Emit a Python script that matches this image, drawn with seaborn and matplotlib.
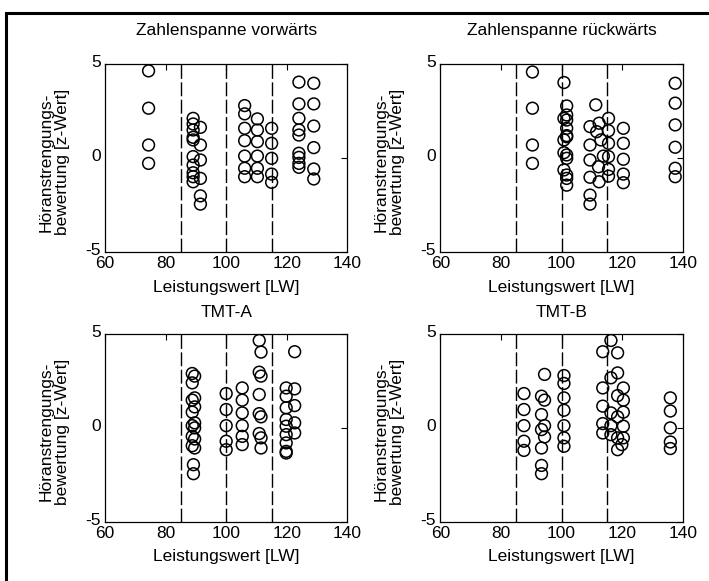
import numpy as np
import pandas as pd
import matplotlib
matplotlib.use("Agg")
import matplotlib.pyplot as plt
import matplotlib.transforms as mtransforms
from matplotlib.patches import Rectangle
import seaborn as sns

# Test scores (LW) and listening-effort ratings (z) per subtest
zsv_lw = [74.4, 74.4, 74.4, 74.4,
          89.1, 89.1, 89.1, 89.1, 89.1, 89.1, 89.1, 89.1, 89.1, 89.1,
          91.5, 91.5, 91.5, 91.5, 91.5, 91.5,
          106.1, 106.1, 106.1, 106.1, 106.1, 106.1, 106.1,
          110.3, 110.3, 110.3, 110.3, 110.3, 110.3,
          115.0, 115.0, 115.0, 115.0, 115.0,
          124.0, 124.0, 124.0, 124.0, 124.0, 124.0, 124.0, 124.0, 124.0,
          128.9, 128.9, 128.9, 128.9, 128.9, 128.9]
zsv_z = [4.66, 2.67, 0.71, -0.27,
         2.13, 1.83, 1.51, 1.12, 0.98, 0.09, -0.36, -0.77, -0.98, -1.25,
         1.65, 0.71, -0.09, -1.07, -2.0, -2.44,
         2.81, 2.37, 1.60, 0.94, 0.12, -0.53, -0.98,
         2.10, 1.51, 0.89, 0.12, -0.53, -0.98,
         1.60, 0.80, 0.0, -0.84, -1.28,
         4.06, 2.90, 2.13, 1.51, 1.24, 0.27, 0.05, -0.27, -0.48,
         4.0, 2.90, 1.72, 0.57, -0.57, -1.1]

zsr_lw = [90.4, 90.4, 90.4, 90.4,
          100.8, 101.7, 101.7, 100.8, 101.7, 101.7, 100.8, 101.7, 100.8, 101.7,
          100.8, 101.7, 101.7, 101.7, 101.7, 101.7,
          111.3, 115.5, 109.4, 112.4, 111.6, 115.5, 109.4, 113.0, 115.5, 109.4,
          113.8, 115.5, 112.2, 115.5, 109.4, 112.4, 115.5, 109.4, 109.4,
          120.4, 120.4, 120.4, 120.4, 120.4,
          137.5, 137.5, 137.5, 137.5, 137.5, 137.5]
zsr_z = [4.6, 2.67, 0.71, -0.27,
         4.04, 2.79, 2.31, 2.13, 1.60, 1.15, 0.98, 0.18, 0.30, 0.0,
         -0.62, -0.89, -1.07, -1.43, 2.04, 1.21,
         2.85, 2.13, 1.69, 1.87, 1.42, 1.47, 0.71, 0.98, 0.80, -0.09,
         0.12, 0.09, -0.45, -0.59, -1.01, -1.25, -0.95, -1.96, -2.44,
         1.60, 0.80, -0.05, -0.84, -1.30,
         4.0, 2.94, 1.78, 0.59, -0.53, -0.98]

tmta_lw = [88.8, 89.6, 88.8, 89.6, 88.8, 89.6, 88.8, 89.6, 88.8, 89.6,
           88.8, 89.6, 88.8, 89.6, 89.2, 89.2,
           100.0, 100.0, 100.0, 100.0, 100.0,
           105.3, 105.3, 105.3, 105.3, 105.3, 105.3,
           110.9, 111.5, 110.9, 111.5, 110.9, 110.9, 111.5, 110.9, 111.5, 111.5,
           122.6, 119.8, 119.8, 119.8, 119.8, 119.8, 119.8, 119.8, 119.8, 119.8,
           122.6, 122.6, 122.6, 122.6]
tmta_z = [2.90, 2.76, 2.40, 1.60, 1.48, 1.12, 0.84, 0.27, 0.12, 0.0,
          -0.45, -0.59, -0.95, -1.07, -1.96, -2.44,
          1.83, 0.98, 0.12, -0.71, -1.16,
          2.13, 1.48, 0.80, 0.12, -0.45, -0.89,
          4.66, 4.04, 2.97, 2.76, 1.78, 0.76, 0.59, -0.30, -0.53, -1.07,
          4.06, 2.13, 1.69, 1.07, 0.45, 0.09, -0.36, -0.80, -1.25, -1.34,
          2.08, 1.19, 0.27, -0.27]

tmtb_lw = [87.6, 87.6, 87.6, 87.6, 87.6,
           94.4, 93.4, 94.4, 93.4, 94.4, 93.4, 94.4, 93.4, 93.4, 93.4,
           100.8, 100.8, 100.8, 100.8, 100.8, 100.8, 100.8,
           116.3, 113.6, 118.5, 118.5, 116.3, 113.6, 120.4, 118.5, 120.4, 113.6,
           116.3, 120.4, 118.5, 113.6, 116.3, 120.4, 113.6, 116.3, 118.5, 120.4,
           119.9, 118.5,
           135.9, 135.9, 135.9, 135.9, 135.9]
tmtb_z = [1.83, 0.98, 0.12, -0.71, -1.2,
          2.85, 1.69, 1.48, 0.71, 0.12, -0.09, -0.48, -1.07, -2.0, -2.44,
          2.79, 2.37, 1.60, 0.94, 0.12, -0.53, -0.98,
          4.66, 4.06, 4.0, 2.93, 2.67, 2.13, 2.13, 1.72, 1.48, 1.16,
          0.80, 0.84, 0.59, 0.23, 0.12, 0.09, -0.27, -0.36, -0.53, -0.53,
          -0.89, -1.16,
          1.6, 0.9, 0.0, -0.75, -1.1]

titles = ["Zahlenspanne vorwärts", "Zahlenspanne rückwärts", "TMT-A", "TMT-B"]
cutoffs = [85, 100, 115]
x_ticks = [60, 80, 100, 120, 140]
y_ticks = [-5, 0, 5]

frames = []
for title, lw, z in zip(titles, [zsv_lw, zsr_lw, tmta_lw, tmtb_lw],
                        [zsv_z, zsr_z, tmta_z, tmtb_z]):
    frames.append(pd.DataFrame({"Test": title, "LW": lw, "z": z}))
df = pd.concat(frames, ignore_index=True)

sns.set_style("white")
plt.rcParams["font.family"] = ["Liberation Sans", "DejaVu Sans"]
plt.rcParams["axes.unicode_minus"] = False
plt.rcParams["text.color"] = "black"
plt.rcParams["axes.labelcolor"] = "black"
plt.rcParams["xtick.color"] = "black"
plt.rcParams["ytick.color"] = "black"

FS = 12.5
fig = plt.figure(figsize=(7.09, 5.81), dpi=100)

# panel positions [left, bottom, width, height] in figure fractions
boxes = [[0.148, 0.566, 0.342, 0.323],
         [0.621, 0.566, 0.342, 0.323],
         [0.148, 0.102, 0.342, 0.323],
         [0.621, 0.102, 0.342, 0.323]]
title_pads = [21, 21, 12.5, 12.5]

for title, box, tpad in zip(titles, boxes, title_pads):
    ax = fig.add_axes(box)
    sub = df[df["Test"] == title]
    for c in cutoffs:
        ax.axvline(c, color="black", lw=1.0, ls=(0, (10, 2.5)), zorder=1)
    sns.scatterplot(data=sub, x="LW", y="z", ax=ax, marker="o", s=72,
                    facecolors="none", edgecolor="black", linewidth=1.1,
                    zorder=3, legend=False)
    ax.set_xlim(60, 140)
    ax.set_ylim(-5, 5)
    ax.set_xticks(x_ticks)
    ax.set_yticks(y_ticks)
    ax.set_xticklabels([str(t) for t in x_ticks])
    ax.set_yticklabels([str(t) for t in y_ticks])
    ax.tick_params(direction="in", top=True, right=True, length=4,
                   width=0.8, labelsize=FS, colors="black", labelcolor="black")
    ax.tick_params(axis="x", pad=3)
    ax.tick_params(axis="y", pad=3)
    shift = mtransforms.ScaledTranslation(0, 3 / 100, fig.dpi_scale_trans)
    for lab in ax.get_yticklabels():
        lab.set_transform(lab.get_transform() + shift)
    for sp in ax.spines.values():
        sp.set_color("black")
        sp.set_linewidth(0.9)
    ax.set_title(title, fontsize=FS, pad=tpad, color="black")
    ax.set_xlabel("Leistungswert [LW]", fontsize=FS, labelpad=6, color="black")
    ax.set_ylabel("Höranstrengungs-\nbewertung [z-Wert]", fontsize=FS,
                  linespacing=1.1, color="black")
    ax.yaxis.set_label_coords(-0.145, 0.48)

# outer frame (left and top edges)
fig.patches.append(Rectangle((0.008, -0.2), 1.2, 1.178, transform=fig.transFigure,
                             fill=False, edgecolor="black", linewidth=2.2))

fig.savefig("out.png", dpi=100)
